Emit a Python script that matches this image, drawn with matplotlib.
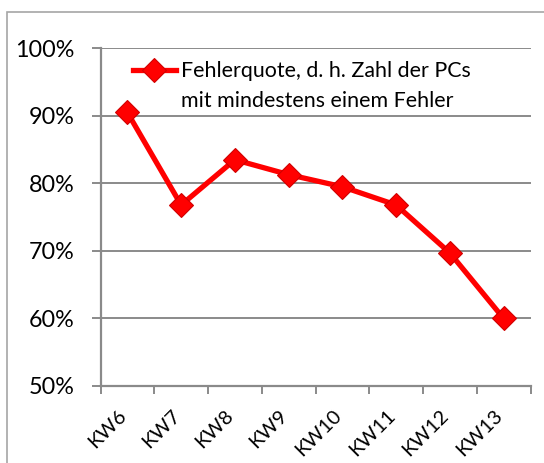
import matplotlib
matplotlib.use("Agg")
import matplotlib.pyplot as plt
from matplotlib.patches import Rectangle
from matplotlib.ticker import FixedLocator, PercentFormatter
from matplotlib.transforms import ScaledTranslation

categories = ["KW6", "KW7", "KW8", "KW9", "KW10", "KW11", "KW12", "KW13"]
values = [90.5, 76.8, 83.5, 81.3, 79.5, 76.8, 69.7, 60.0]
y_ticks = [50, 60, 70, 80, 90, 100]
legend_line1 = "Fehlerquote, d. h. Zahl der PCs"
legend_line2 = "mit mindestens einem Fehler"

plt.rcParams['font.family'] = ['Lato', 'DejaVu Sans']

W, H = 544, 463
fig = plt.figure(figsize=(W / 100, H / 100), dpi=100)
fig.patch.set_facecolor('white')

# outer chart frame
fig.patches.append(Rectangle((7 / W, -0.05), 1.2, 1 - 12 / H + 0.05,
                             transform=fig.transFigure, fill=False,
                             edgecolor='#a6a6a6', linewidth=1.2))

ax = fig.add_axes([100.5 / W, 1 - 386 / H, 430 / W, (386 - 48.3) / H])
grid_c = '#8a8a8a'
x = list(range(len(categories)))
ax.plot(x, values, color='#ff0000', linewidth=3.8, marker='D', markersize=12,
        markerfacecolor='#ff0000', markeredgecolor='#d00000', markeredgewidth=0.8,
        label=legend_line1, solid_joinstyle='round', zorder=3)

ax.set_xlim(-0.5, len(categories) - 0.5)
ax.set_ylim(50, 100)
ax.yaxis.set_major_locator(FixedLocator(y_ticks))
ax.yaxis.set_major_formatter(PercentFormatter(decimals=0))
ax.grid(axis='y', color=grid_c, linewidth=1.4)
ax.set_axisbelow(True)

for s in ['top', 'right']:
    ax.spines[s].set_visible(False)
for s in ['left', 'bottom']:
    ax.spines[s].set_color(grid_c)
    ax.spines[s].set_linewidth(1.6)

ax.tick_params(axis='y', length=6.5, width=1.4, color=grid_c, pad=12, labelsize=16.8)
ax.set_xticks(x)
ax.set_xticklabels(categories, rotation=45, ha='right', va='center',
                   rotation_mode='anchor', fontsize=14.4)
ax.tick_params(axis='x', which='major', length=0, pad=19)
ax.set_xticks([i - 0.5 for i in range(len(categories) + 1)], minor=True)
ax.tick_params(axis='x', which='minor', length=5.5, width=1.4, color=grid_c)
shift = ScaledTranslation(-4 / 100, 0, fig.dpi_scale_trans)
for lbl in ax.get_xticklabels():
    lbl.set_transform(lbl.get_transform() + shift)

leg = ax.legend(loc='center left', bbox_to_anchor=(133 / W, 1 - 71 / H),
                bbox_transform=fig.transFigure, frameon=False, fontsize=15.4,
                handlelength=2.0, handletextpad=0.25, borderpad=0, borderaxespad=0)
fig.text(181 / W, 1 - 107 / H, legend_line2, fontsize=15.4,
         ha='left', va='baseline')

fig.savefig("out.png", dpi=100)
